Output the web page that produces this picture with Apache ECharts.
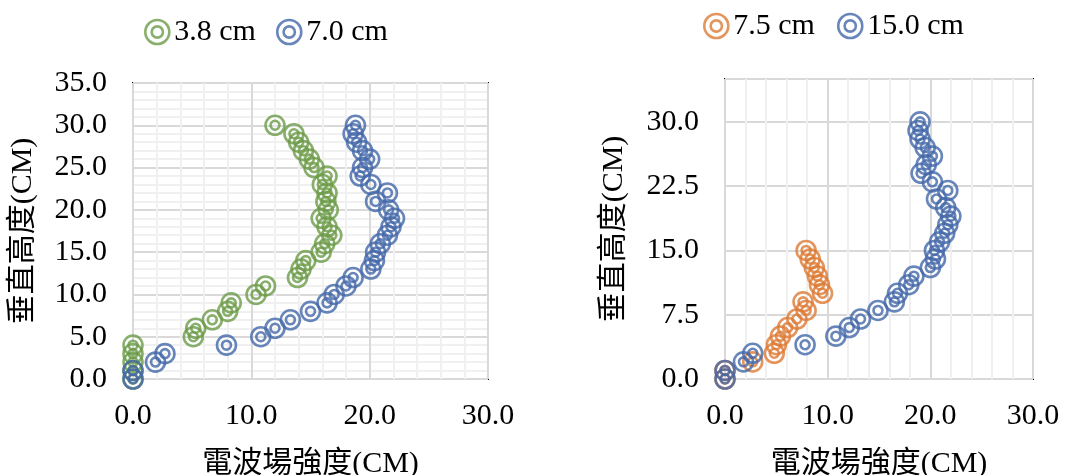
<!DOCTYPE html>
<html>
<head>
<meta charset="utf-8">
<script src="https://cdn.jsdelivr.net/npm/echarts@6/dist/echarts.min.js"></script>
<style>
  html, body { margin: 0; padding: 0; background: #ffffff; }
  #chart { width: 1073px; height: 475px; }
</style>
</head>
<body>
<div id="chart"></div>
<script>
// ---- data ----
const heightsCm = [0,1,2,3,4,5,6,7,8,9,10,11,12,13,14,15,16,17,18,19,20,21,22,23,24,25,26,27,28,29,30];
const field38 = [0,0,0,0,0,5.1,5.3,6.7,8.0,8.3,10.4,11.2,13.9,14.2,14.6,15.9,16.2,16.8,16.4,15.9,16.5,16.3,16.4,16.0,16.4,15.3,14.9,14.4,14.0,13.6,12.0];
const field70 = [0,0,1.9,2.7,7.9,10.8,12.0,13.3,15.0,16.4,17.0,18.0,18.6,20.1,20.4,20.5,20.9,21.5,21.8,22.1,21.6,20.5,21.5,20.1,19.2,19.4,20.0,19.4,18.9,18.6,18.8];
const heights75 = [0,1,2,3,4,5,6,7,8,9,10,11,12,13,14,15];
const field75 = [0,0,2.7,4.8,5.0,5.4,6.1,7.0,7.9,7.6,9.5,9.2,9.0,8.7,8.3,7.9];
const field150 = [0,0,1.8,2.7,7.8,10.8,12.1,13.2,14.9,16.5,16.8,17.9,18.4,20.0,20.5,20.4,20.9,21.4,21.7,22.0,21.5,20.6,21.7,20.2,19.1,19.6,20.2,19.5,19.0,18.8,19.0];
const seriesNamesLeft = ['3.8 cm', '7.0 cm'];
const seriesNamesRight = ['7.5 cm', '15.0 cm'];
const xTickValues = [0, 10, 20, 30];
const yTickLeft = [0, 5, 10, 15, 20, 25, 30, 35];
const yTickRight = [0, 7.5, 15, 22.5, 30];
const xAxisTitle = '電波場強度(CM)';
const yAxisTitle = '垂直高度(CM)';

// ---- styling ----
const GREEN = '#6B9B47', BLUE = '#4468A9', ORANGE = '#DD7A35';
const FONT = "'Liberation Serif', 'Noto Sans CJK TC', serif";
const FS = 30;
const ringPath = 'path://M0,10 A10,10 0 1,1 20,10 A10,10 0 1,1 0,10 Z M5.3,10 A4.7,4.7 0 1,1 14.7,10 A4.7,4.7 0 1,1 5.3,10 Z';

function pairs(xs, ys) { return ys.map((y, i) => [xs[i], y]); }

function xAxisCfg(gridIndex) {
  return {
    type: 'value', gridIndex, min: xTickValues[0], max: xTickValues[xTickValues.length - 1], interval: 10,
    axisLine: { show: false }, axisTick: { show: false },
    axisLabel: { fontFamily: FONT, fontSize: FS, color: '#000', margin: 22, formatter: v => v.toFixed(1) },
    splitLine: { show: true, lineStyle: { color: '#D9D9D9', width: 2 } },
    minorTick: { show: false, splitNumber: 5 },
    minorSplitLine: { show: true, lineStyle: { color: '#F0F0F0', width: 2 } },
    name: xAxisTitle, nameLocation: 'middle', nameGap: 70,
    nameTextStyle: { fontFamily: FONT, fontSize: FS, color: '#000' }
  };
}

function scatter(name, xi, yi, xs, ys, color) {
  return {
    type: 'scatter', name, xAxisIndex: xi, yAxisIndex: yi,
    data: pairs(ys, xs),
    symbol: ringPath, symbolSize: 19, clip: false,
    itemStyle: { color: 'rgba(0,0,0,0)', borderColor: color, borderWidth: 2.6 },
    emphasis: { disabled: true }
  };
}

const legendBase = {
  itemWidth: 24, itemHeight: 24, itemTextGap: 2, icon: ringPath,
  itemStyle: { borderWidth: 2.6 },
  textStyle: { fontFamily: FONT, fontSize: FS, color: '#000' }
};

const option = {
  animation: false,
  backgroundColor: '#ffffff',
  legend: [
    Object.assign({ data: seriesNamesLeft, left: 139, top: 12, itemGap: 20 }, legendBase),
    Object.assign({ data: seriesNamesRight, left: 698, top: 6, itemGap: 22 }, legendBase)
  ],
  grid: [
    { left: 133, top: 83, width: 355, height: 296, outerBoundsMode: 'none', containLabel: false,
      show: true, borderColor: '#000', borderWidth: 2, backgroundColor: 'transparent' },
    { left: 725, top: 79, width: 308, height: 300, outerBoundsMode: 'none', containLabel: false,
      show: true, borderColor: '#000', borderWidth: 2, backgroundColor: 'transparent' }
  ],
  xAxis: [xAxisCfg(0), xAxisCfg(1)],
  yAxis: [
    { type: 'value', gridIndex: 0, min: yTickLeft[0], max: yTickLeft[yTickLeft.length - 1], interval: 5,
      axisLine: { show: false }, axisTick: { show: false },
      axisLabel: { fontFamily: FONT, fontSize: FS, color: '#000', margin: 26, formatter: v => v.toFixed(1) },
      splitLine: { show: true, lineStyle: { color: '#D9D9D9', width: 2 } },
      minorTick: { show: false, splitNumber: 5 },
      minorSplitLine: { show: true, lineStyle: { color: '#F0F0F0', width: 2 } },
      name: yAxisTitle, nameLocation: 'middle', nameGap: 95,
      nameTextStyle: { fontFamily: FONT, fontSize: FS, color: '#000' } },
    { type: 'value', gridIndex: 1, min: yTickRight[0], max: 35, interval: 7.5,
      axisLine: { show: false }, axisTick: { show: false },
      axisLabel: { fontFamily: FONT, fontSize: FS, color: '#000', margin: 26,
        formatter: v => (yTickRight.indexOf(v) >= 0 ? v.toFixed(1) : '') },
      splitLine: { show: true, lineStyle: { color: '#D9D9D9', width: 2 } },
      name: yAxisTitle, nameLocation: 'middle', nameGap: 96,
      nameTextStyle: { fontFamily: FONT, fontSize: FS, color: '#000' } }
  ],
  series: [
    scatter(seriesNamesLeft[0], 0, 0, heightsCm, field38, GREEN),
    scatter(seriesNamesLeft[1], 0, 0, heightsCm, field70, BLUE),
    scatter(seriesNamesRight[0], 1, 1, heights75, field75, ORANGE),
    scatter(seriesNamesRight[1], 1, 1, heightsCm, field150, BLUE)
  ]
};

const chart = echarts.init(document.getElementById('chart'), null, { renderer: 'canvas' });
chart.setOption(option);
</script>
</body>
</html>
